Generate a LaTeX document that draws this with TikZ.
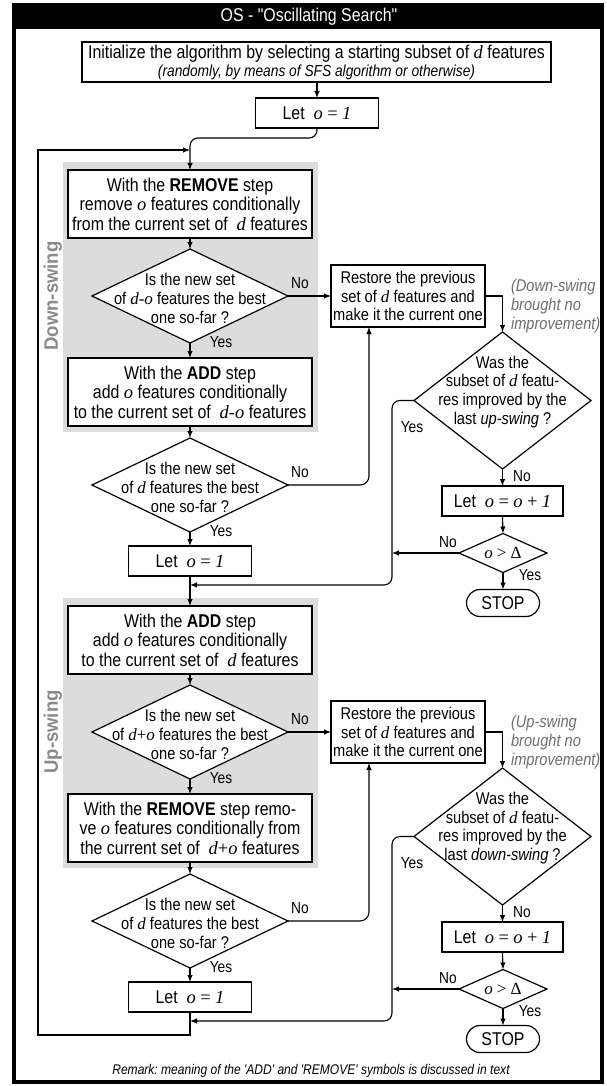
\documentclass[tikz,border=0pt]{standalone}
\usepackage{fontspec}
\setmainfont{Liberation Sans}[FakeStretch=0.86]
\setmonofont{Liberation Sans}[FakeStretch=0.86]
\newfontfamily\mfont{Liberation Serif}
\newfontfamily\lblfont{Liberation Sans}[FakeStretch=0.95]
\usetikzlibrary{arrows.meta,shapes.geometric,shapes.misc}
\newcommand{\mv}[1]{{\mfont\itshape #1}}
\newcommand{\mr}[1]{{\mfont #1}}
\newcommand{\fmain}{\fontsize{17pt}{18.8pt}\selectfont}
\newcommand{\fbig}{\fontsize{18.5pt}{19.5pt}\selectfont}
\definecolor{grayfill}{HTML}{DCDCDC}
\definecolor{notegray}{HTML}{6E6E6E}
\definecolor{swinggray}{HTML}{8A8A8A}
\begin{document}
\begin{tikzpicture}[x=1pt,y=-1pt,
  every node/.style={inner sep=0pt, outer sep=0pt},
  box/.style={draw, line width=1.2pt, fill=white, align=center, font=\fmain},
  dia/.style={draw, diamond, line width=1.2pt, fill=white},
  dtxt/.style={align=center, font=\fmain},
  lab/.style={font=\fontsize{16pt}{17pt}\selectfont},
  note/.style={align=left, font=\fmain\itshape, text=notegray},
  swing/.style={font=\lblfont\bfseries\fontsize{19.5pt}{20pt}\selectfont, text=swinggray, rotate=90},
  arr/.style={-{Latex[length=7pt,width=5.5pt]}, line width=1.1pt},
  stopbox/.style={draw, rounded rectangle, line width=1.2pt, font=\fbig, minimum width=73pt, minimum height=27pt},
  letbox/.style={box, minimum width=123pt, minimum height=30pt, font=\fbig},
  stepbox/.style={box, minimum width=244pt, minimum height=68pt, font=\fbig},
  restbox/.style={box, minimum width=154pt, minimum height=62pt},
  bigdia/.style={dia, minimum width=196pt, minimum height=94pt},
  wasdia/.style={dia, minimum width=177pt, minimum height=137pt},
  gtdia/.style={dia, minimum width=88pt, minimum height=39pt},
  incbox/.style={box, minimum width=121pt, minimum height=30pt, font=\fbig},
]
\useasboundingbox (0,0) rectangle (606,1086);
\fill[white] (0,0) rectangle (606,1086);
% frame and title
\draw[line width=3.5pt] (14,5) rectangle (602,1082);
\fill[black] (14,5) rectangle (602,29);
\node[text=white, font=\ttfamily\fbig] (title) at (309,17) {OS - "Oscillating Search"};
% gray areas
\fill[grayfill] (63,162) rectangle (318,432);
\fill[grayfill] (63,598) rectangle (318,868);
\node[swing] (sw1) at (53,296) {Down-swing};
\node[swing] (sw2) at (53,732) {Up-swing};

% top
\node[box, minimum width=469pt, minimum height=40pt, font=\fbig] (init) at (316.5,62)
  {Initialize the algorithm by selecting a starting subset of \mv{d} features\\[-1.5pt]
   {\fontsize{16pt}{16pt}\selectfont\itshape (randomly, by means of SFS algorithm or otherwise)}};
\node[letbox] (let1) at (317,113) {Let\ \ \mv{o} \mr{=} \mv{1}};

% down-swing
\node[stepbox] (rem1) at (190,204) {With the \textbf{REMOVE} step\\remove \mv{o} features conditionally\\from the current set of\ \ \mv{d} features};
\node[bigdia] (d1) at (190,296) {};
\node[dtxt] (d1t) at (190,298.5) {Is the new set\\of \mv{d-o} features the best\\one so-far ?};
\node[stepbox] (add1) at (190,392) {With the \textbf{ADD} step\\add \mv{o} features conditionally\\to the current set of\ \ \mv{d-o} features};
\node[bigdia] (d2) at (190,485) {};
\node[dtxt] (d2t) at (190,487.5) {Is the new set\\of \mv{d} features the best\\one so-far ?};
\node[letbox] (let2) at (190,561) {Let\ \ \mv{o} \mr{=} \mv{1}};
\node[restbox] (rest1) at (408,296) {Restore the previous\\set of \mv{d} features and\\make it the current one};
\node[note, anchor=west] (n1) at (511,306) {(Down-swing\\brought no\\improvement)};
\node[wasdia] (was1) at (502.5,400.5) {};
\node[dtxt] (was1t) at (502.5,392) {Was the\\subset of \mv{d} featu-\\res improved by the\\last \textit{up-swing} ?};
\node[incbox] (inc1) at (502.5,501) {Let\ \ \mv{o} \mr{=} \mv{o} \mr{+} \mv{1}};
\node[gtdia] (gt1) at (503,553) {};
\node[dtxt] (gt1t) at (503,553) {\mv{o} \mr{>} \mr{Δ}};
\node[stopbox] (stop1) at (503,603) {STOP};

% up-swing
\node[stepbox] (add2) at (190,640) {With the \textbf{ADD} step\\add \mv{o} features conditionally\\to the current set of\ \ \mv{d} features};
\node[bigdia] (d3) at (190,732) {};
\node[dtxt] (d3t) at (190,734.5) {Is the new set\\of \mv{d}\mr{+}\mv{o} features the best\\one so-far ?};
\node[stepbox] (rem2) at (190,828) {With the \textbf{REMOVE} step remo-\\ve \mv{o} features conditionally from\\the current set of\ \ \mv{d}\mr{+}\mv{o} features};
\node[bigdia] (d4) at (190,921) {};
\node[dtxt] (d4t) at (190,923.5) {Is the new set\\of \mv{d} features the best\\one so-far ?};
\node[letbox] (let3) at (190,997) {Let\ \ \mv{o} \mr{=} \mv{1}};
\node[restbox] (rest2) at (408,732) {Restore the previous\\set of \mv{d} features and\\make it the current one};
\node[note, anchor=west] (n2) at (511,742) {(Up-swing\\brought no\\improvement)};
\node[wasdia] (was2) at (502.5,836.5) {};
\node[dtxt] (was2t) at (502.5,828) {Was the\\subset of \mv{d} featu-\\res improved by the\\last \textit{down-swing} ?};
\node[incbox] (inc2) at (502.5,937) {Let\ \ \mv{o} \mr{=} \mv{o} \mr{+} \mv{1}};
\node[gtdia] (gt2) at (503,989) {};
\node[dtxt] (gt2t) at (503,989) {\mv{o} \mr{>} \mr{Δ}};
\node[stopbox] (stop2) at (503,1039) {STOP};

% labels
\node[lab] (no1) at (300,283) {No};
\node[lab] (yes1) at (221,342) {Yes};
\node[lab] (no2) at (300,472) {No};
\node[lab] (yes2) at (221,531) {Yes};
\node[lab] (yes3) at (412,427) {Yes};
\node[lab] (no3) at (522,476) {No};
\node[lab] (no4) at (448,542) {No};
\node[lab] (yes4) at (530,575) {Yes};
\node[lab] (no5) at (300,719) {No};
\node[lab] (yes5) at (221,778) {Yes};
\node[lab] (no6) at (300,908) {No};
\node[lab] (yes6) at (221,967) {Yes};
\node[lab] (yes7) at (412,863) {Yes};
\node[lab] (no7) at (522,912) {No};
\node[lab] (no8) at (448,978) {No};
\node[lab] (yes8) at (530,1011) {Yes};

\node[font=\ttfamily\fontsize{14pt}{15pt}\selectfont\itshape] (rmk) at (311,1071)
  {Remark: meaning of the 'ADD' and 'REMOVE' symbols is discussed in text};

% coordinates
\coordinate (j0) at (190,150);
\coordinate (v1) at (392,553);
\coordinate (j1) at (190,585);
\coordinate (v2) at (392,989);
\coordinate (j2) at (190,1021);

% connectors top
\draw[arr] (init.south -| let1.north) -- (let1.north);
\draw[arr, rounded corners=8pt] (let1.south) -- ++(0,10) -| (rem1.north);
\draw[arr] (let3.south) |- (38,1035) |- (j0);

% down-swing connectors
\draw[arr] (rem1.south) -- (d1.north);
\draw[arr] (d1.east) -- (rest1.west);
\draw[arr] (d1.south) -- (add1.north);
\draw[arr] (add1.south) -- (d2.north);
\draw[arr, rounded corners=9pt] (d2.east) -| ([xshift=-39pt]rest1.south);
\draw[arr] (d2.south) -- (let2.north);
\draw[arr] (let2.south) -- (add2.north);
\draw[arr] (rest1.east) -| (was1.north);
\draw[arr, rounded corners=8pt] (was1.west) -| (v1) |- (j1);
\draw[arr] (was1.south) -- (inc1.north);
\draw[arr] (inc1.south) -- (gt1.north);
\draw[arr] (gt1.west) -- (v1);
\draw[arr] (gt1.south) -- (stop1.north);

% up-swing connectors
\draw[arr] (add2.south) -- (d3.north);
\draw[arr] (d3.east) -- (rest2.west);
\draw[arr] (d3.south) -- (rem2.north);
\draw[arr] (rem2.south) -- (d4.north);
\draw[arr, rounded corners=9pt] (d4.east) -| ([xshift=-39pt]rest2.south);
\draw[arr] (d4.south) -- (let3.north);
\draw[arr] (rest2.east) -| (was2.north);
\draw[arr, rounded corners=8pt] (was2.west) -| (v2) |- (j2);
\draw[arr] (was2.south) -- (inc2.north);
\draw[arr] (inc2.south) -- (gt2.north);
\draw[arr] (gt2.west) -- (v2);
\draw[arr] (gt2.south) -- (stop2.north);
\end{tikzpicture}
\end{document}
